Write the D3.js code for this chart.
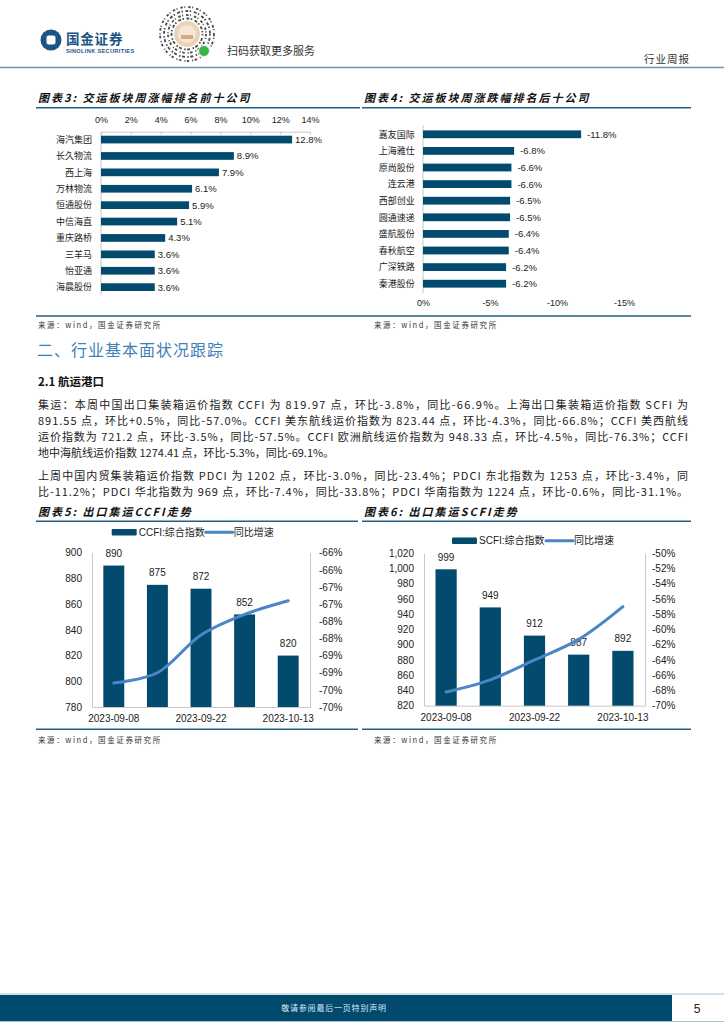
<!DOCTYPE html>
<html>
<head>
<meta charset="utf-8">
<script src="https://cdn.jsdelivr.net/npm/d3@7"></script>
<style>
  body { margin: 0; background: #fff; }
  svg { display: block; }
  text { font-family: "Liberation Sans", Arial, "Noto Sans CJK SC", sans-serif; }
  .cjk { font-family: "Noto Sans CJK SC", sans-serif; }
  .title { font-family: "Noto Sans CJK SC", sans-serif; font-weight: bold; font-style: italic; font-size: 11px; letter-spacing: 2px; fill: #111; }
  .src { font-family: "Noto Sans CJK SC", sans-serif; font-size: 7.5px; letter-spacing: 1.6px; fill: #333; }
  .body { font-family: "Noto Sans CJK SC", sans-serif; font-size: 11px; fill: #222; }
  .tick text { fill: #222; }
</style>
</head>
<body>
<svg id="page" width="724" height="1024"></svg>
<script>
// 图表3 / 图表4
const top10Names = ["海汽集团", "长久物流", "西上海", "万林物流", "恒通股份", "中信海直", "重庆路桥", "三羊马", "怡亚通", "海晨股份"];
const top10Values = [12.8, 8.9, 7.9, 6.1, 5.9, 5.1, 4.3, 3.6, 3.6, 3.6];
const top10Ticks = [0, 2, 4, 6, 8, 10, 12, 14];

const bottom10Names = ["嘉友国际", "上海雅仕", "原尚股份", "连云港", "西部创业", "圆通速递", "盛航股份", "春秋航空", "广深铁路", "秦港股份"];
const bottom10Values = [-11.8, -6.8, -6.6, -6.6, -6.5, -6.5, -6.4, -6.4, -6.2, -6.2];
const bottom10Ticks = [0, -5, -10, -15];

// 图表5 / 图表6
const weekDates = ["2023-09-08", "2023-09-15", "2023-09-22", "2023-09-28", "2023-10-13"];
const shownDates = ["2023-09-08", "2023-09-22", "2023-10-13"];

const ccfiValues = [890, 875, 872, 852, 820];
const ccfiYoy = [-69.3, -69.0, -67.9, -67.3, -66.9];
const ccfiLeftTicks = [780, 800, 820, 840, 860, 880, 900];
const ccfiRightTicks = [-70, -69.5, -69, -68.5, -68, -67.5, -67, -66.5, -66, -65.5];

const scfiValues = [999, 949, 912, 887, 892];
const scfiYoy = [-68.2, -66.6, -64.0, -61.3, -57.0];
const scfiLeftTicks = [820, 840, 860, 880, 900, 920, 940, 960, 980, 1000, 1020];
const scfiRightTicks = [-70, -68, -66, -64, -62, -60, -58, -56, -54, -52, -50];

const para1 = [
  "集运：本周中国出口集装箱运价指数 CCFI 为 819.97 点，环比-3.8%，同比-66.9%。上海出口集装箱运价指数 SCFI 为",
  "891.55 点，环比+0.5%，同比-57.0%。CCFI 美东航线运价指数为 823.44 点，环比-4.3%，同比-66.8%；CCFI 美西航线",
  "运价指数为 721.2 点，环比-3.5%，同比-57.5%。CCFI 欧洲航线运价指数为 948.33 点，环比-4.5%，同比-76.3%；CCFI",
  "地中海航线运价指数 1274.41 点，环比-5.3%，同比-69.1%。",
];
const para2 = [
  "上周中国内贸集装箱运价指数 PDCI 为 1202 点，环比-3.0%，同比-23.4%；PDCI 东北指数为 1253 点，环比-3.4%，同",
  "比-11.2%；PDCI 华北指数为 969 点，环比-7.4%，同比-33.8%；PDCI 华南指数为 1224 点，环比-0.6%，同比-31.1%。",
];

const BAR = "#034a6f";
const LINE = "#4a86c5";
const RULE = "#1f5f8b";
const AXIS = "#c8c8c8";
const SOURCE = "来源：wind，国金证券研究所";

const svg = d3.select("#page");

// Header
function drawHeader() {
  svg.append("circle").attr("cx", 51).attr("cy", 40).attr("r", 10.5).attr("fill", "#1b5585");
  svg.append("rect").attr("x", 46.5).attr("y", 35.5).attr("width", 9).attr("height", 9).attr("rx", 2).attr("fill", "#fff");
  svg.append("text").attr("class", "cjk").attr("x", 66).attr("y", 43.5)
    .attr("font-size", 13.5).attr("font-weight", "bold").attr("letter-spacing", 0.8).attr("fill", "#1b5585").text("国金证券");
  svg.append("text").attr("x", 66).attr("y", 52.5)
    .attr("font-size", 5.6).attr("font-weight", "bold").attr("letter-spacing", 0.35).attr("fill", "#1b5585").text("SINOLINK SECURITIES");

  // mini-program code
  const qr = svg.append("g").attr("transform", "translate(187,34)");
  [27, 23, 19, 15.5].forEach((r, i) => {
    qr.append("circle").attr("r", r).attr("fill", "none").attr("stroke", "#4a4a4a")
      .attr("stroke-width", 1.8).attr("stroke-dasharray", i % 2 ? "1.5 2.5 3 1.5" : "2.5 1.5 1 3");
  });
  qr.append("circle").attr("r", 13).attr("fill", "#ecd2b6");
  qr.append("circle").attr("r", 9).attr("fill", "#f6e6d5");
  qr.append("rect").attr("x", -6).attr("y", 1).attr("width", 12).attr("height", 4).attr("fill", "#d7a97c");
  qr.append("circle").attr("cx", 17).attr("cy", 17).attr("r", 5.5).attr("fill", "#34b545").attr("stroke", "#fff").attr("stroke-width", 1);

  svg.append("text").attr("class", "cjk").attr("x", 227).attr("y", 55).attr("font-size", 11).attr("fill", "#333").text("扫码获取更多服务");
  svg.append("text").attr("class", "cjk").attr("x", 644).attr("y", 63).attr("font-size", 10.5).attr("letter-spacing", 1).attr("fill", "#333").text("行业周报");
  svg.append("line").attr("x1", 0).attr("x2", 724).attr("y1", 67.5).attr("y2", 67.5).attr("stroke", "#6b93b5").attr("stroke-width", 1.6);
}

function drawTitle(x0, x1, y, label) {
  svg.append("text").attr("class", "title").attr("x", x0 + 2).attr("y", y).text(label);
  svg.append("line").attr("x1", x0).attr("x2", x1).attr("y1", y + 5.7).attr("y2", y + 5.7)
    .attr("stroke", RULE).attr("stroke-width", 1.5);
}

function drawHBar({ names, values, ticks, xDomain, xRange, yRange, padOuter, catX, labelGap, axisTop }) {
  const x = d3.scaleLinear().domain(xDomain).range(xRange);
  const y = d3.scaleBand().domain(names).range(yRange).paddingInner(0.53).paddingOuter(padOuter);
  const g = svg.append("g");

  if (axisTop) {
    const ax = g.append("g").attr("transform", `translate(0,${yRange[0]})`)
      .call(d3.axisTop(x).tickValues(ticks).tickFormat((d) => d + "%").tickSize(-3).tickSizeOuter(0).tickPadding(8.4));
    ax.selectAll("path,line").attr("stroke", AXIS);
    ax.selectAll("text").attr("font-size", 9);
  } else {
    const ax = g.append("g").attr("transform", `translate(0,${yRange[1]})`)
      .call(d3.axisBottom(x).tickValues(ticks).tickFormat((d) => d + "%").tickSize(0).tickPadding(7));
    ax.select(".domain").remove();
    ax.selectAll("text").attr("font-size", 9);
  }
  g.append("line").attr("x1", x(0)).attr("x2", x(0)).attr("y1", yRange[0]).attr("y2", yRange[1]).attr("stroke", AXIS);

  names.forEach((name, i) => {
    const v = values[i];
    const left = Math.min(x(0), x(v));
    const w = Math.abs(x(v) - x(0));
    const cy = y(name) + y.bandwidth() / 2;
    g.append("rect").attr("x", left).attr("y", y(name)).attr("width", w).attr("height", y.bandwidth()).attr("fill", BAR);
    g.append("text").attr("x", left + w + labelGap).attr("y", cy).attr("dy", "0.36em")
      .attr("font-size", 9.5).attr("fill", "#222").text(v.toFixed(1) + "%");
    g.append("text").attr("class", "cjk").attr("x", catX).attr("y", cy).attr("dy", "0.36em")
      .attr("text-anchor", "end").attr("font-size", 9).attr("fill", "#222").text(name);
  });
}

function drawCombo({ xRange, yTop, yBottom, values, yoy, leftDomain, leftTicks, leftFmt, rightDomain, rightTicks, rightFmt, rightPad, legendY, legendX, seriesName }) {
  const x = d3.scaleBand().domain(weekDates).range(xRange).paddingInner(0.52).paddingOuter(0.26);
  const yL = d3.scaleLinear().domain(leftDomain).range([yBottom, yTop]);
  const yR = d3.scaleLinear().domain(rightDomain).range([yBottom, yTop]);
  const g = svg.append("g");
  const bw = x.bandwidth();

  const axL = g.append("g").attr("transform", `translate(${xRange[0]},0)`)
    .call(d3.axisLeft(yL).tickValues(leftTicks).tickFormat(leftFmt).tickSize(0).tickPadding(10));
  const axR = g.append("g").attr("transform", `translate(${xRange[1]},0)`)
    .call(d3.axisRight(yR).tickValues(rightTicks).tickFormat(rightFmt).tickSize(0).tickPadding(rightPad));
  const axB = g.append("g").attr("transform", `translate(0,${yBottom})`)
    .call(d3.axisBottom(x).tickValues(shownDates).tickSize(0).tickPadding(7.8));
  [axL, axR, axB].forEach((ax) => {
    ax.select(".domain").attr("stroke", AXIS);
    ax.selectAll("text").attr("font-size", 10);
  });

  weekDates.forEach((d, i) => {
    g.append("rect").attr("x", x(d)).attr("y", yL(values[i])).attr("width", bw)
      .attr("height", yBottom - yL(values[i])).attr("fill", BAR);
    g.append("text").attr("x", x(d) + bw / 2).attr("y", yL(values[i]) - 8.5).attr("text-anchor", "middle")
      .attr("font-size", 10).attr("fill", "#222").text(values[i]);
  });

  const line = d3.line()
    .x((d, i) => x(weekDates[i]) + bw / 2)
    .y((d) => yR(d))
    .curve(d3.curveCatmullRom.alpha(0.5));
  g.append("path").attr("d", line(yoy)).attr("fill", "none").attr("stroke", LINE)
    .attr("stroke-width", 3).attr("stroke-linecap", "round");

  // Legend
  const lx = legendX;
  g.append("rect").attr("x", lx).attr("y", legendY - 3.3).attr("width", 25).attr("height", 6.6).attr("rx", 1).attr("fill", BAR);
  g.append("text").attr("x", lx + 27).attr("y", legendY).attr("dy", "0.36em").attr("font-size", 10).attr("fill", "#222").text(seriesName);
  g.append("line").attr("x1", lx + 94).attr("x2", lx + 121).attr("y1", legendY).attr("y2", legendY)
    .attr("stroke", LINE).attr("stroke-width", 3).attr("stroke-linecap", "round");
  g.append("text").attr("x", lx + 122).attr("y", legendY).attr("dy", "0.36em").attr("font-size", 10).attr("fill", "#222").text("同比增速");
}

function drawSource(x, y) {
  svg.append("text").attr("class", "src").attr("x", x).attr("y", y).text(SOURCE);
}

function drawBodyText() {
  svg.append("text").attr("class", "cjk").attr("x", 37).attr("y", 356).attr("font-size", 16)
    .attr("fill", "#3f80b6").attr("letter-spacing", 1).text("二、行业基本面状况跟踪");
  svg.append("text").attr("class", "cjk").attr("x", 38).attr("y", 386).attr("font-size", 11.5)
    .attr("font-weight", "bold").attr("fill", "#111").text("2.1 航运港口");

  const writeLines = (lines, startY, justifyCount) => {
    lines.forEach((t, i) => {
      const el = svg.append("text").attr("class", "body").attr("x", 38).attr("y", startY + i * 16).text(t);
      if (i < justifyCount) el.attr("textLength", 650).attr("lengthAdjust", "spacing");
    });
  };
  writeLines(para1, 409, 3);
  writeLines(para2, 480, 2);
}

function drawFooter() {
  svg.append("line").attr("x1", 0).attr("x2", 724).attr("y1", 994).attr("y2", 994).attr("stroke", "#a8c4d8").attr("stroke-width", 1);
  svg.append("line").attr("x1", 0).attr("x2", 724).attr("y1", 1021.5).attr("y2", 1021.5).attr("stroke", "#a8c4d8").attr("stroke-width", 1);
  svg.append("rect").attr("x", 0).attr("y", 995).attr("width", 672).attr("height", 26).attr("fill", "#004a6e");
  svg.append("text").attr("class", "cjk").attr("x", 334).attr("y", 1011).attr("text-anchor", "middle")
    .attr("font-size", 8).attr("letter-spacing", 0.8).attr("fill", "#dfe8ef").text("敬请参阅最后一页特别声明");
  svg.append("text").attr("x", 697).attr("y", 1012.5).attr("text-anchor", "middle").attr("font-size", 12).attr("fill", "#222").text("5");
}

drawHeader();

drawTitle(36, 360, 102, "图表3: 交运板块周涨幅排名前十公司");
drawTitle(362, 691, 102, "图表4: 交运板块周涨跌幅排名后十公司");

drawHBar({
  names: top10Names, values: top10Values, ticks: top10Ticks,
  xDomain: [0, 14], xRange: [101, 310], yRange: [131.7, 295], padOuter: 0.245,
  catX: 92, labelGap: 3, axisTop: true,
});
drawHBar({
  names: bottom10Names, values: bottom10Values, ticks: bottom10Ticks,
  xDomain: [0, -15], xRange: [423, 624], yRange: [125, 293], padOuter: 0.325,
  catX: 414.7, labelGap: 6, axisTop: false,
});

svg.append("line").attr("x1", 36).attr("x2", 691).attr("y1", 316).attr("y2", 316).attr("stroke", RULE).attr("stroke-width", 1.5);
drawSource(38, 328);
drawSource(374, 328);

drawBodyText();

drawTitle(36, 358, 515.5, "图表5: 出口集运CCFI走势");
drawTitle(362, 691, 515.5, "图表6: 出口集运SCFI走势");

drawCombo({
  xRange: [92, 310], yTop: 552.7, yBottom: 707,
  values: ccfiValues, yoy: ccfiYoy,
  leftDomain: [780, 900], leftTicks: ccfiLeftTicks, leftFmt: (d) => d,
  rightDomain: [-70, -65.5], rightTicks: ccfiRightTicks, rightFmt: (d) => -Math.round(-d) + "%", rightPad: 9,
  legendY: 532.3, legendX: 111.7, seriesName: "CCFI:综合指数",
});
drawCombo({
  xRange: [424, 645], yTop: 553.3, yBottom: 705.7,
  values: scfiValues, yoy: scfiYoy,
  leftDomain: [820, 1020], leftTicks: scfiLeftTicks, leftFmt: d3.format(","),
  rightDomain: [-70, -50], rightTicks: scfiRightTicks, rightFmt: (d) => d + "%", rightPad: 7,
  legendY: 540.7, legendX: 452, seriesName: "SCFI:综合指数",
});

svg.append("line").attr("x1", 36).attr("x2", 358).attr("y1", 729.3).attr("y2", 729.3).attr("stroke", RULE).attr("stroke-width", 1.5);
svg.append("line").attr("x1", 362).attr("x2", 691).attr("y1", 729.3).attr("y2", 729.3).attr("stroke", RULE).attr("stroke-width", 1.5);
drawSource(38, 743);
drawSource(374, 743);

drawFooter();
</script>
</body>
</html>
